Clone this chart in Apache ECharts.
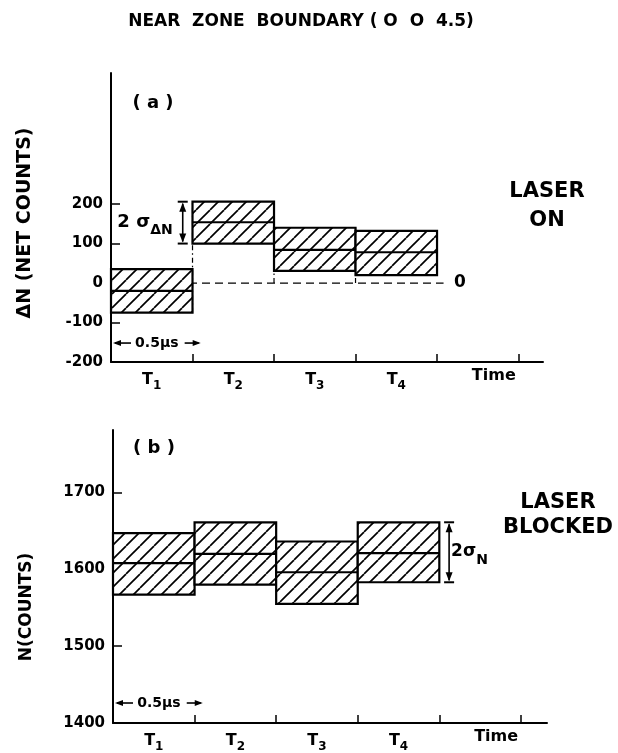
<!DOCTYPE html>
<html>
<head>
<meta charset="utf-8">
<script src="https://cdn.jsdelivr.net/npm/echarts@6/dist/echarts.min.js"></script>
<style>
html,body{margin:0;padding:0;background:#fff;}
#main{width:618px;height:753px;}
</style>
</head>
<body>
<div id="main"></div>
<script>
// ---------- data ----------
const intervals = ['T1', 'T2', 'T3', 'T4'];
const tStart = [0, 0.5, 1.0, 1.5];          // µs
const tEnd   = [0.5, 1.0, 1.5, 2.0];        // µs
// (a) Laser on: ΔN (net counts)
const aMid = [-20, 154, 84, 78];
const aTop = [35, 206, 140, 132];
const aBot = [-75, 100, 31, 20];
const aBaseline = 0;
const aBaselineEnd = 2.04;
// (b) Laser blocked: N (counts)
const bMid = [1608, 1620, 1596, 1621];
const bTop = [1647, 1661, 1636, 1661];
const bBot = [1567, 1580, 1555, 1583];
// axis ticks / labels
const xTicks = [0.5, 1.0, 1.5, 2.0, 2.5];
const xLabelPos = [0.25, 0.75, 1.25, 1.75, 2.25];
const xLabels = [['T', '1'], ['T', '2'], ['T', '3'], ['T', '4'], ['Time', '']];
const aYTicks = [-100, 100, 200];
const aYLabels = [-200, -100, 0, 100, 200];
const bYTicks = [1500, 1600, 1700];
const bYLabels = [1400, 1500, 1600, 1700];

const FONT = 'DejaVu Sans';

// ---------- hatch pattern ----------
function makeHatch() {
  const w = 14, h = 14;
  const c = document.createElement('canvas');
  c.width = w; c.height = h;
  const ctx = c.getContext('2d');
  ctx.fillStyle = '#fff';
  ctx.fillRect(0, 0, w, h);
  ctx.strokeStyle = '#000';
  ctx.lineWidth = 1.7;
  for (const dx of [-w, 0, w]) {
    ctx.beginPath();
    ctx.moveTo(dx, h);
    ctx.lineTo(dx + w, 0);
    ctx.stroke();
  }
  return c;
}
const hatch = { image: makeHatch(), repeat: 'repeat' };

function bandData(top, mid, bot) {
  return intervals.map((n, i) => [tStart[i], tEnd[i], bot[i], mid[i], top[i]]);
}
function bandRender(params, api) {
  const x0 = api.value(0), x1 = api.value(1);
  const lo = api.value(2), mid = api.value(3), hi = api.value(4);
  const pTL = api.coord([x0, hi]);
  const pBR = api.coord([x1, lo]);
  const m0 = api.coord([x0, mid]);
  const m1 = api.coord([x1, mid]);
  return {
    type: 'group',
    children: [
      { type: 'rect', shape: { x: pTL[0], y: pTL[1], width: pBR[0] - pTL[0], height: pBR[1] - pTL[1] },
        style: { fill: hatch, stroke: '#000', lineWidth: 2.2 } },
      { type: 'line', shape: { x1: m0[0], y1: m0[1], x2: m1[0], y2: m1[1] },
        style: { stroke: '#000', lineWidth: 2.2 } }
    ]
  };
}
// connectors between adjacent steps (dash-dot), down to baseline
function connectorData(top, bot, base) {
  const out = [];
  for (let i = 0; i < top.length - 1; i++) {
    out.push([tEnd[i], Math.min(bot[i], bot[i + 1], base), Math.max(top[i], top[i + 1])]);
  }
  return out;
}
function connectorRender(params, api) {
  const p0 = api.coord([api.value(0), api.value(1)]);
  const p1 = api.coord([api.value(0), api.value(2)]);
  return { type: 'line', shape: { x1: p0[0], y1: p0[1], x2: p1[0], y2: p1[1] },
    style: { stroke: '#000', lineWidth: 1.2, lineDash: [5, 3, 1.5, 3] } };
}

function xAxisCfg(grid, max) {
  return {
    gridIndex: grid, type: 'value', min: 0, max: max, interval: 0.5,
    axisLine: { show: true, onZero: false, lineStyle: { color: '#000', width: 2 } },
    axisTick: { show: true, inside: true, length: 8, customValues: xTicks, lineStyle: { color: '#000', width: 1.5 } },
    splitLine: { show: false },
    axisLabel: {
      customValues: xLabelPos, margin: 6, color: '#000', fontFamily: FONT,
      formatter: function (v) {
        let k = 0, best = 1e9;
        xLabelPos.forEach((p, i) => { if (Math.abs(p - v) < best) { best = Math.abs(p - v); k = i; } });
        const l = xLabels[k];
        if (!l[1]) return '{tm|' + l[0] + '}';
        return '{t|' + l[0] + '}{s|' + l[1] + '}';
      },
      rich: {
        t: { fontSize: 16, fontFamily: FONT, fontWeight: 'bold', color: '#000', lineHeight: 16, verticalAlign: 'middle' },
        s: { fontSize: 12, fontFamily: FONT, color: '#000', fontWeight: 'bold', lineHeight: 24, verticalAlign: 'bottom' },
        tm: { fontSize: 16, fontFamily: FONT, fontWeight: 'bold', color: '#000', lineHeight: 16, verticalAlign: 'middle', padding: [0, 0, 0, 32] }
      }
    }
  };
}
function yAxisCfg(grid, min, max, ticks, labels) {
  return {
    gridIndex: grid, type: 'value', min: min, max: max, interval: 100,
    axisLine: { show: true, onZero: false, lineStyle: { color: '#000', width: 2 } },
    axisTick: { show: true, inside: true, length: 9, customValues: ticks, lineStyle: { color: '#000', width: 1.5 } },
    splitLine: { show: false },
    axisLabel: { customValues: labels, margin: 8, color: '#000', fontSize: 15, fontWeight: 'bold', fontFamily: FONT,
      formatter: v => String(v) }
  };
}

const option = {
  backgroundColor: '#fff',
  animation: false,
  grid: [
    { left: 111, top: 73, width: 432, height: 289 },
    { left: 113, top: 430, width: 434, height: 297 }
  ],
  xAxis: [xAxisCfg(0, 2.65), xAxisCfg(1, 2.66)],
  yAxis: [yAxisCfg(0, -200, 532, aYTicks, aYLabels), yAxisCfg(1, 1400, 1781, bYTicks, bYLabels)],
  series: [
    { type: 'custom', xAxisIndex: 0, yAxisIndex: 0, z: 1, renderItem: connectorRender,
      data: connectorData(aTop, aBot, aBaseline), silent: true },
    { type: 'line', xAxisIndex: 0, yAxisIndex: 0, z: 1, symbol: 'none', silent: true,
      data: [[0, aBaseline], [aBaselineEnd, aBaseline]],
      lineStyle: { color: '#000', width: 1.3, type: [8, 5] } },
    { type: 'custom', xAxisIndex: 0, yAxisIndex: 0, z: 3, renderItem: bandRender,
      data: bandData(aTop, aMid, aBot), silent: true },
    { type: 'custom', xAxisIndex: 1, yAxisIndex: 1, z: 3, renderItem: bandRender,
      data: bandData(bTop, bMid, bBot), silent: true }
  ]
};

const chart = echarts.init(document.getElementById('main'), null, { renderer: 'canvas' });
chart.setOption(option);

// ---------- annotations ----------
const P = (g, x, y) => chart.convertToPixel({ gridIndex: g }, [x, y]);
function txt(x, y, text, size, extra, weight) {
  return Object.assign({ type: 'text', x: x, y: y, silent: true,
    style: Object.assign({ text: text, fill: '#000', font: (weight || 'bold') + ' ' + size + 'px "' + FONT + '"', align: 'center', verticalAlign: 'middle' }, extra || {}) });
}
function vArrow(x, y1, y2) { // double arrow with caps, y1 top, y2 bottom
  const hw = 5, ah = 9, aw = 3.5;
  return [
    { type: 'line', shape: { x1: x - hw, y1: y1, x2: x + hw, y2: y1 }, style: { stroke: '#000', lineWidth: 2 } },
    { type: 'line', shape: { x1: x - hw, y1: y2, x2: x + hw, y2: y2 }, style: { stroke: '#000', lineWidth: 2 } },
    { type: 'line', shape: { x1: x, y1: y1 + 2, x2: x, y2: y2 - 2 }, style: { stroke: '#000', lineWidth: 1.6 } },
    { type: 'polygon', shape: { points: [[x, y1 + 1], [x - aw, y1 + ah + 1], [x + aw, y1 + ah + 1]] }, style: { fill: '#000' } },
    { type: 'polygon', shape: { points: [[x, y2 - 1], [x - aw, y2 - ah - 1], [x + aw, y2 - ah - 1]] }, style: { fill: '#000' } }
  ];
}
function hArrowMark(g, yv, text) {
  const a = P(g, 0, yv), b = P(g, 0.55, yv);
  const y = a[1], x0 = a[0] + 2, x1 = b[0];
  const ah = 8, aw = 3;
  return [
    { type: 'line', shape: { x1: x0 + 2, y1: y, x2: x0 + 18, y2: y }, style: { stroke: '#000', lineWidth: 1.6 } },
    { type: 'polygon', shape: { points: [[x0, y], [x0 + ah, y - aw], [x0 + ah, y + aw]] }, style: { fill: '#000' } },
    { type: 'line', shape: { x1: x1 - 16, y1: y, x2: x1 - 2, y2: y }, style: { stroke: '#000', lineWidth: 1.6 } },
    { type: 'polygon', shape: { points: [[x1, y], [x1 - ah, y - aw], [x1 - ah, y + aw]] }, style: { fill: '#000' } },
    txt((x0 + x1) / 2, y, text, 14)
  ];
}

const g = [];
// title
g.push(txt(301, 22, 'NEAR  ZONE  BOUNDARY ( O  O  4.5)', 17));
// y axis names
g.push(Object.assign(txt(25, 223, 'ΔN (NET COUNTS)', 19), { rotation: Math.PI / 2 }));
g.push(Object.assign(txt(27, 607, 'N(COUNTS)', 17), { rotation: Math.PI / 2 }));
// panel labels
g.push(txt(153, 103, '( a )', 18));
g.push(txt(154, 448, '( b )', 18));
// laser texts
g.push(txt(547, 206, 'LASER\nON', 21, { lineHeight: 29 }));
g.push(txt(558, 515, 'LASER\nBLOCKED', 21, { lineHeight: 25 }));
// 2σΔN arrow on T2 band
{
  const t = P(0, 0.44, aTop[1]), b = P(0, 0.44, aBot[1]);
  vArrow(t[0], t[1], b[1]).forEach(e => g.push(e));
  g.push({ type: 'text', x: t[0] - 10, y: (t[1] + b[1]) / 2, silent: true,
    style: { text: '{n|2 σ}{s|ΔN}', align: 'right', verticalAlign: 'middle',
      rich: { n: { fontSize: 18, fontFamily: FONT, fontWeight: 'bold', fill: '#000', lineHeight: 20, verticalAlign: 'middle' },
              s: { fontSize: 14, fontFamily: FONT, fontWeight: 'bold', fill: '#000', lineHeight: 30, verticalAlign: 'bottom' } } } });
}
// 2σN arrow on T4 band
{
  const t = P(1, 2.06, bTop[3]), b = P(1, 2.06, bBot[3]);
  vArrow(t[0], t[1], b[1]).forEach(e => g.push(e));
  g.push({ type: 'text', x: t[0] + 2, y: (t[1] + b[1]) / 2 - 1, silent: true,
    style: { text: '{n|2σ}{s|N}', align: 'left', verticalAlign: 'middle',
      rich: { n: { fontSize: 17, fontFamily: FONT, fontWeight: 'bold', fill: '#000', lineHeight: 20, verticalAlign: 'middle' },
              s: { fontSize: 14, fontFamily: FONT, fontWeight: 'bold', fill: '#000', lineHeight: 32, verticalAlign: 'bottom' } } } });
}
// baseline label
{
  const p = P(0, 2.14, aBaseline);
  g.push(txt(p[0], p[1], '0', 17));
}
// 0.5 µs markers
hArrowMark(0, -152, '0.5μs').forEach(e => g.push(e));
hArrowMark(1, 1426, '0.5μs').forEach(e => g.push(e));

chart.setOption({ graphic: { elements: g } });
</script>
</body>
</html>
